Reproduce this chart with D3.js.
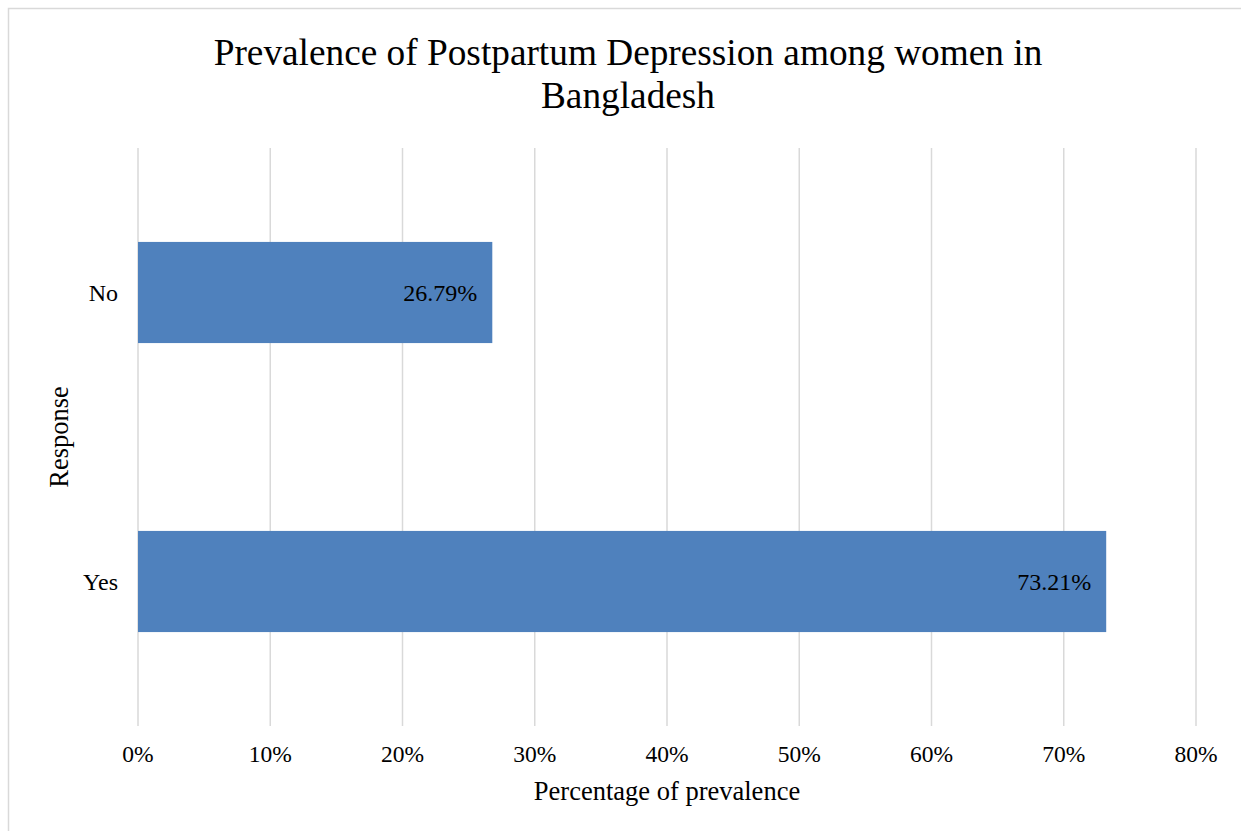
<!DOCTYPE html>
<html>
<head>
<meta charset="utf-8">
<script src="https://cdn.jsdelivr.net/npm/d3@7"></script>
<style>
  html, body { margin: 0; padding: 0; background: #fff; }
  svg { display: block; }
  text { font-family: "Liberation Serif", "Times New Roman", serif; fill: #000; }
</style>
</head>
<body>
<svg id="chart" width="1241" height="831"></svg>
<script>
const categories = ["No", "Yes"];
const values = [26.79, 73.21];
const valueLabels = ["26.79%", "73.21%"];
const tickValues = [0, 10, 20, 30, 40, 50, 60, 70, 80];
const titleLines = ["Prevalence of Postpartum Depression among women in", "Bangladesh"];
const xTitle = "Percentage of prevalence";
const yTitle = "Response";

const svg = d3.select("#chart");
const W = 1241, H = 831;
const plot = { left: 138, right: 1196, top: 148, bottom: 726 };

// outer border
svg.append("rect")
  .attr("x", 8.5).attr("y", 8.5)
  .attr("width", W + 20).attr("height", H + 20)
  .attr("fill", "#fff").attr("stroke", "#d9d9d9").attr("stroke-width", 1.5);

const x = d3.scaleLinear().domain([0, 80]).range([plot.left, plot.right]);
const y = d3.scaleBand().domain(categories).range([plot.top, plot.bottom]).paddingInner(0.65).paddingOuter(0.325);

// gridlines
svg.append("g").selectAll("line").data(tickValues).join("line")
  .attr("x1", d => x(d)).attr("x2", d => x(d))
  .attr("y1", plot.top).attr("y2", plot.bottom)
  .attr("stroke", "#d9d9d9").attr("stroke-width", 1.5);

// bars
svg.append("g").selectAll("rect").data(categories).join("rect")
  .attr("x", x(0))
  .attr("y", d => y(d))
  .attr("width", (d, i) => x(values[i]) - x(0))
  .attr("height", y.bandwidth())
  .attr("fill", "#4f81bd");

// data labels
svg.append("g").selectAll("text").data(categories).join("text")
  .attr("x", (d, i) => x(values[i]) - 15)
  .attr("y", d => y(d) + y.bandwidth() / 2 + 8.5)
  .attr("text-anchor", "end")
  .attr("font-size", "24px")
  .text((d, i) => valueLabels[i]);

// x tick labels
svg.append("g").selectAll("text").data(tickValues).join("text")
  .attr("x", d => x(d))
  .attr("y", 762)
  .attr("text-anchor", "middle")
  .attr("font-size", "23.5px")
  .text(d => d + "%");

// y category labels
svg.append("g").selectAll("text").data(categories).join("text")
  .attr("x", 118)
  .attr("y", d => y(d) + y.bandwidth() / 2 + 8)
  .attr("text-anchor", "end")
  .attr("font-size", "24px")
  .text(d => d);

// title
svg.append("g").selectAll("text").data(titleLines).join("text")
  .attr("x", 628)
  .attr("y", (d, i) => 65 + i * 43)
  .attr("text-anchor", "middle")
  .attr("font-size", "37.3px")
  .text(d => d);

// axis titles
svg.append("text")
  .attr("x", 667).attr("y", 800)
  .attr("text-anchor", "middle")
  .attr("font-size", "26.5px")
  .text(xTitle);

svg.append("text")
  .attr("transform", "translate(68,437) rotate(-90)")
  .attr("text-anchor", "middle")
  .attr("font-size", "26.5px")
  .text(yTitle);
</script>
</body>
</html>
